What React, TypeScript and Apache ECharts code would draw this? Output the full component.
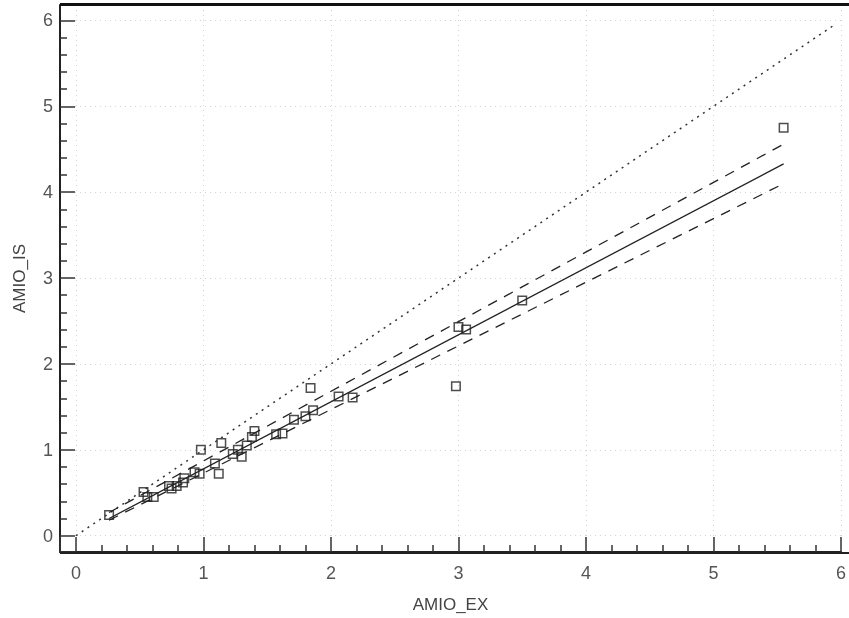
import React, { useEffect, useRef } from "react";
import * as echarts from "echarts";

// Measured data (AMIO_EX vs AMIO_IS)
const amioEx = [0.26, 0.53, 0.56, 0.61, 0.73, 0.75, 0.79, 0.84, 0.85, 0.93, 0.97, 0.98, 1.09, 1.12, 1.14, 1.23, 1.27, 1.30, 1.34, 1.38, 1.40, 1.57, 1.62, 1.71, 1.80, 1.86, 1.84, 2.06, 2.17, 2.98, 3.00, 3.06, 3.50, 5.55];
const amioIs = [0.24, 0.51, 0.45, 0.45, 0.58, 0.55, 0.58, 0.62, 0.67, 0.74, 0.72, 1.00, 0.84, 0.72, 1.08, 0.95, 1.00, 0.92, 1.05, 1.15, 1.22, 1.18, 1.19, 1.35, 1.39, 1.46, 1.72, 1.62, 1.61, 1.74, 2.43, 2.40, 2.74, 4.75];

// Regression line and its confidence band (end points)
const fitX = [0.26, 5.55];
const fitY = [0.20, 4.33];
const upperY = [0.27, 4.56];
const lowerY = [0.18, 4.10];

// Identity line
const identityX = [0, 5.95];
const identityY = [0, 5.95];

// Axis tick labels
const xMajor = [0, 1, 2, 3, 4, 5, 6];
const yMajor = [0, 1, 2, 3, 4, 5, 6];

const FONT = '"Liberation Sans", Arial, sans-serif';
const X_MIN = -0.125, X_MAX = 6;
const Y_MIN = -0.19, Y_MAX = 6.18;

export default function App() {
  const ref = useRef<HTMLDivElement>(null);
  useEffect(() => {
    const chart = echarts.init(ref.current!, null, { renderer: "svg" });
    const pair = (xs: number[], ys: number[]) => xs.map((x, i) => [x, ys[i]]);
    chart.setOption({
      animation: false,
      grid: { left: 60, right: 8, top: 5, bottom: 65 },
      graphic: [
        { type: "rect", shape: { x: 60, y: 3, width: 789, height: 3 }, style: { fill: "#111" }, silent: true, z: 100 },
        { type: "rect", shape: { x: 60, y: 552, width: 789, height: 2 }, style: { fill: "#222" }, silent: true, z: 100 },
      ],
      xAxis: {
        type: "value", min: X_MIN, max: X_MAX,
        name: "AMIO_EX", nameLocation: "middle", nameGap: 44,
        nameTextStyle: { fontFamily: FONT, fontSize: 17, color: "#444" },
        axisLine: { show: true, onZero: false, lineStyle: { color: "#222", width: 2 } },
        axisTick: { show: true, inside: true, length: 15, lineStyle: { color: "#333", width: 1.5 } },
        minorTick: { show: true, splitNumber: 5, length: 7, lineStyle: { color: "#333", width: 1.5 } },
        axisLabel: { customValues: xMajor, margin: 12, fontFamily: FONT, fontSize: 18, color: "#555" },
        splitLine: { show: true, lineStyle: { color: "#d4d4d4", type: [1, 4], width: 1 } },
      },
      yAxis: {
        type: "value", min: Y_MIN, max: Y_MAX,
        name: "AMIO_IS", nameLocation: "middle", nameGap: 32, nameRotate: 90,
        nameTextStyle: { fontFamily: FONT, fontSize: 17, color: "#444" },
        axisLine: { show: true, onZero: false, lineStyle: { color: "#222", width: 2 } },
        axisTick: { show: true, inside: true, length: 15, lineStyle: { color: "#333", width: 1.5 } },
        minorTick: { show: true, splitNumber: 5, length: 7, lineStyle: { color: "#333", width: 1.5 } },
        axisLabel: { customValues: yMajor, margin: 7, fontFamily: FONT, fontSize: 18, color: "#555" },
        splitLine: { show: true, lineStyle: { color: "#d4d4d4", type: [1, 4], width: 1 } },
      },
      series: [
        {
          type: "line", data: pair(identityX, identityY), symbol: "none", silent: true,
          lineStyle: { color: "#333", width: 1.5, type: [2, 5] },
        },
        {
          type: "line", data: pair(fitX, fitY), symbol: "none", silent: true,
          lineStyle: { color: "#222", width: 1.3, type: "solid" },
        },
        {
          type: "line", data: pair(fitX, upperY), symbol: "none", silent: true,
          lineStyle: { color: "#222", width: 1.3, type: [10, 8] },
        },
        {
          type: "line", data: pair(fitX, lowerY), symbol: "none", silent: true,
          lineStyle: { color: "#222", width: 1.3, type: [10, 8] },
        },
        {
          type: "scatter", data: pair(amioEx, amioIs), symbol: "rect", symbolSize: 8.5,
          itemStyle: { color: "rgba(0,0,0,0)", borderColor: "#222", borderWidth: 1.5 },
        },
      ],
    });
    return () => chart.dispose();
  }, []);
  return <div ref={ref} style={{ position: "fixed", left: 0, top: 0, width: 849, height: 618 }} />;
}
